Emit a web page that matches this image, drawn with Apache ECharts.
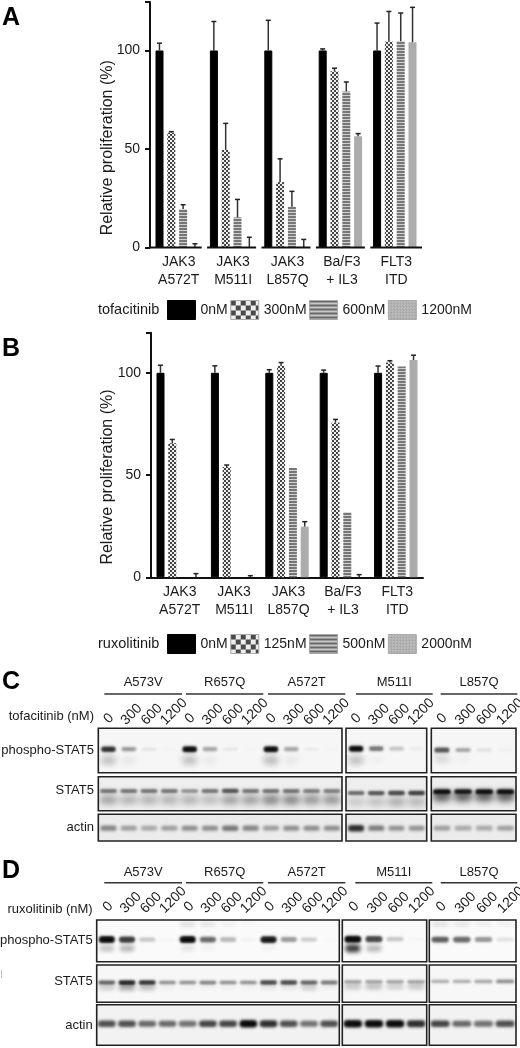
<!DOCTYPE html>
<html><head><meta charset="utf-8">
<style>html,body{margin:0;padding:0;background:#fff}#c{width:520px;height:1048px}</style>
<script src="https://cdn.jsdelivr.net/npm/echarts@6/dist/echarts.min.js"></script></head>
<body><div id="c"></div>
<script>
// ---------- data ----------
const categories = ['JAK3\nA572T','JAK3\nM511I','JAK3\nL857Q','Ba/F3\n+ IL3','FLT3\nITD'];
const tofaDoses = ['0nM','300nM','600nM','1200nM'];
const ruxoDoses = ['0nM','125nM','500nM','2000nM'];
const tofa0    = [100,100,100,100,100];
const tofa300  = [58.3,49.5,33.2,89.5,104.6];
const tofa600  = [19.5,15.3,20.7,79.2,104.7];
const tofa1200 = [0,0,0,56.4,104.2];
const tofa0Top    = [103.7,114.7,115.3,100.8,113.9];
const tofa300Top  = [58.8,63,45,91,119.8];
const tofa600Top  = [21.7,24.4,28.5,84,119];
const tofa1200Top = [1.9,5.2,4.1,57.8,121.9];
const ruxo0    = [100,100,100,100,100];
const ruxo125  = [65.5,53.9,103.3,75.7,105];
const ruxo500  = [0,0,53.4,31.8,103.1];
const ruxo2000 = [0,0,24.8,0,106.2];
const ruxo0Top    = [103.7,103.4,101.5,101.3,103.3];
const ruxo125Top  = [67.4,54.9,105,77.2,105.9];
const ruxo500Top  = [0,0,53.4,31.8,103.1];
const ruxo2000Top = [1.8,0.8,27.2,1.3,108.6];
const yTicks = [0,50,100];

const blotGroups = ['A573V','R657Q','A572T','M511I','L857Q'];
const laneDoses = ['0','300','600','1200'];
const blotRows = ['phospho-STAT5','STAT5','actin'];
// band darkness per lane; outer list = gel panel
const cPhosphoMain  = [[.85,.4,.08,.02,1,.35,.07,.01,1,.35,.05,.01],[1,.55,.22,.05],[.7,.35,.09,.03]];
const cPhosphoLower = [[.26,.07,0,0,.26,.06,0,0,.28,.07,0,0],[.26,.04,0,0],[.14,.03,0,0]];
const cStatMain  = [[.55,.55,.55,.55,.45,.55,.7,.55,.55,.55,.5,.5],[.6,.7,.75,.8],[1,.95,1,1]];
const cStatLower = [[.34,.28,.28,.28,.28,.24,.36,.36,.46,.46,.4,.4],[.18,.22,.3,.26],[.62,.62,.62,.62]];
const cActin = [[.46,.36,.3,.36,.42,.42,.52,.46,.36,.42,.42,.42],[.85,.5,.4,.4],[.35,.3,.3,.35]];
const dPhosphoMain  = [[1,.8,.22,.02,1,.6,.28,.03,.95,.4,.18,.01],[1,.75,.22,.02],[.65,.6,.42,.1]];
const dPhosphoLower = [[.24,.3,0,0,.1,.04,0,0,.04,0,0,0],[.8,.3,0,0],[0,0,0,0]];
const dPhosphoTop   = [[0,0,0,0,.18,.14,.08,.04,0,0,0,0],[0,0,0,0],[.16,.13,.1,.08]];
const dStatMain  = [[.65,.9,.85,.45,.45,.5,.45,.45,.75,.75,.65,.55],[.35,.35,.35,.35],[.32,.32,.35,.45]];
const dStatLower = [[.2,.4,.28,.04,.03,.03,.03,.03,.08,.08,.2,.04],[.24,.28,.2,.24],[0,0,0,0]];
const dActin = [[.7,.7,.6,.6,.55,.75,.75,1,.85,.7,.55,.7],[1,1,1,.85],[.75,.6,.55,.7]];

// ---------- patterns ----------
function pat(fn,w,h){const c=document.createElement('canvas');c.width=w;c.height=h;fn(c.getContext('2d'));return {image:c,repeat:'repeat'};}
function checker(s,dark,light){return pat(g=>{g.fillStyle=light;g.fillRect(0,0,2*s,2*s);g.fillStyle=dark;g.fillRect(0,0,s,s);g.fillRect(s,s,s,s);},2*s,2*s);}
function stripes(d,l,dh,lh){return pat(g=>{g.fillStyle=l;g.fillRect(0,0,4,dh+lh);g.fillStyle=d;g.fillRect(0,0,4,dh);},4,dh+lh);}
const barFills=['#000',checker(2,'#444','#eee'),stripes('#777','#d0d0d0',2,1),'#acacac'];
const legFills=['#000',checker(5,'#4a4a4a','#eee'),stripes('#686868','#c8c8c8',2,2),
  pat(g=>{g.fillStyle='#bdbdbd';g.fillRect(0,0,3,3);g.fillStyle='#8e8e8e';g.fillRect(0,0,1,1);g.fillRect(2,2,1,1);},3,3)];

// ---------- layout ----------
const FONT='"Liberation Sans",Arial,sans-serif';
const OFF=1500;
const grids=[],xAxes=[],yAxes=[],series=[],legends=[],gfx=[];
const txt=(x,y,t,o={})=>gfx.push({type:'text',x,y,silent:true,rotation:o.rot||0,style:{text:t,fill:o.c||'#1a1a1a',font:(o.w||'normal')+' '+(o.s||13)+'px '+FONT,textAlign:o.a||'left',textVerticalAlign:'middle'}});

function barPanel(top,h,left,ymax,names,vals,tops,broken,legY,drug){
  const gi=grids.length;
  grids.push({left,top,width:272,height:h,show:false,outerBoundsMode:'none'});
  xAxes.push({gridIndex:gi,type:'category',data:categories,
    axisLine:{show:!broken,lineStyle:{color:'#111',width:2}},axisTick:{show:false},
    axisLabel:{interval:0,color:'#1a1a1a',fontFamily:FONT,fontSize:14,lineHeight:18,margin:6,padding:[0,0,0,3]}});
  yAxes.push({gridIndex:gi,type:'value',min:0,max:ymax,interval:50,
    axisLine:{show:true,onZero:false,lineStyle:{color:'#111',width:2}},
    axisTick:{show:true,length:5,lineStyle:{color:'#111',width:2}},
    axisLabel:{color:'#1a1a1a',fontFamily:FONT,fontSize:14,margin:10,customValues:yTicks},splitLine:{show:false}});
  names.forEach((n,i)=>series.push({type:'bar',name:n,xAxisIndex:gi,yAxisIndex:gi,data:vals[i],barWidth:8,barGap:'47.5%',barCategoryGap:0,
    itemStyle:{color:barFills[i],borderColor:i===0?'#000':'transparent',borderWidth:i===0?1:0},silent:true,z:3}));
  const rows=[];tops.forEach((arr,d)=>arr.forEach((t,c)=>{if(t>vals[d][c])rows.push([c,t,d,vals[d][c]]);}));
  series.push({type:'custom',xAxisIndex:gi,yAxisIndex:gi,silent:true,z:4,clip:false,data:rows,encode:{x:0,y:1},
    renderItem(p,api){const off=(api.value(2)-1.5)*11.83;const a=api.coord([api.value(0),api.value(1)]);const b=api.coord([api.value(0),api.value(3)]);
      const x=a[0]+off;return {type:'group',children:[
        {type:'line',shape:{x1:x,y1:a[1],x2:x,y2:b[1]},style:{stroke:'#333',lineWidth:1.5}},
        {type:'line',shape:{x1:x-2.5,y1:a[1],x2:x+2.5,y2:a[1]},style:{stroke:'#222',lineWidth:1.5}}]};}});
  if(broken){series.push({type:'custom',xAxisIndex:gi,yAxisIndex:gi,silent:true,z:5,clip:false,data:categories.map((c,i)=>[i,0]),encode:{x:0,y:1},
    renderItem(p,api){const i=api.value(0);const c=api.coord([i,0]);const w=api.size([1,0])[0]/2;
      return {type:'line',shape:{x1:c[0]-w+(i?2.7:0),y1:c[1],x2:c[0]+w-(i<4?2.7:0),y2:c[1]},style:{stroke:'#111',lineWidth:2}};}});}
  txt(108,top+h/2+(broken?23:22),'Relative proliferation (%)',{s:16,rot:Math.PI/2,a:'center'});
  txt(98,legY,drug,{s:14.5});
  legends.push({show:true,left:167,top:legY-10,padding:0,orient:'horizontal',itemWidth:28,itemHeight:19,itemGap:2.5,selectedMode:false,
    textStyle:{color:'#1a1a1a',fontFamily:FONT,fontSize:14},
    data:names.map((n,i)=>({name:n,icon:'rect',itemStyle:{color:legFills[i],borderColor:i?'#aaa':'#000',borderWidth:1}}))});
}
barPanel(2,245.5,150,124.6,tofaDoses,[tofa0,tofa300,tofa600,tofa1200],[tofa0Top,tofa300Top,tofa600Top,tofa1200Top],true,310,'tofacitinib');
barPanel(332.7,244.6,151,119.6,ruxoDoses,[ruxo0,ruxo125,ruxo500,ruxo2000],[ruxo0Top,ruxo125Top,ruxo500Top,ruxo2000Top],false,644,'ruxolitinib');

// a band is a blurred soft shadow cast from a shape kept off-canvas
function bandSeries(gi,bands){
  series.push({type:'custom',xAxisIndex:gi,yAxisIndex:gi,silent:true,clip:true,z:2,data:bands,encode:{x:0,y:1},
    renderItem(p,api){const c=api.coord([api.value(0),api.value(1)]);const d=api.value(2);const w=api.size([1,0])[0];
      const rx=w*api.value(3),ry=api.value(4)*(.65+.6*d);
      return {type:'rect',shape:{x:c[0]-rx-OFF,y:c[1]-ry,width:2*rx,height:2*ry,r:ry},
        style:{fill:'#000',shadowBlur:api.value(5),shadowOffsetX:OFF,shadowColor:'rgba(10,10,10,'+d+')'}};}});
}
function laneLabels(gi,dx,dy){
  series.push({type:'custom',xAxisIndex:gi,yAxisIndex:gi,silent:true,clip:false,z:6,
    data:xAxes[gi].data.map((d,k)=>[k,0]),encode:{x:0,y:1},
    renderItem(p,api){const k=api.value(0);const c=api.coord([k,0]);const t=laneDoses[k%4];
      const sx=t.length===1?3:(t.length===4?-1:0),sy=t.length===1?-1.5:0;
      return {type:'text',x:c[0]+dx+sx,y:c[1]+dy+sy,rotation:Math.PI/4,
        style:{text:t,fill:'#1a1a1a',font:'14px '+FONT,textAlign:'left',textVerticalAlign:'middle',verticalAlign:'middle'}};}});
}
function blotFigure(cols,rows,labelX,drugLabel,drugY,groupY,lineY,letter,letterY,lineSpans,lblDx,lblDy){
  lineSpans.forEach((sp,i)=>{
    txt((sp[0]+sp[1])/2,groupY,blotGroups[i],{a:'center'});
    gfx.push({type:'line',silent:true,shape:{x1:sp[0],y1:lineY,x2:sp[1],y2:lineY},style:{stroke:'#333',lineWidth:1.5}});
  });
  txt(labelX,drugY,drugLabel,{a:'right'});
  txt(2,letterY,letter,{s:25,w:'bold',c:'#000'});
  rows.forEach((r,ri)=>{
    txt(labelX,r.labelY,blotRows[ri],{a:'right'});
    cols.forEach((col,ci)=>{
      const gi=grids.length,n=ci===0?12:4;
      grids.push({left:col[0],top:r.y,width:col[1]-col[0],height:r.h,show:true,backgroundColor:r.bg,borderColor:'#222',borderWidth:1.6,outerBoundsMode:'none'});
      const lanes=[];for(let k=0;k<n;k++)lanes.push(laneDoses[k%4]);
      xAxes.push({gridIndex:gi,type:'category',position:'top',data:lanes,show:false});
      yAxes.push({gridIndex:gi,type:'value',inverse:true,min:0,max:1,show:false});
      const bands=[];
      r.layers.forEach(l=>{l.d[ci].forEach((v,k)=>{if(v>0)bands.push([k,l.y[ci],v,l.rx,l.ry,l.b]);});});
      bandSeries(gi,bands);
      if(ri===0)laneLabels(gi,lblDx,lblDy);
    });
  });
}
blotFigure([[98.3,342],[346,426.7],[431.3,516]],[
  {y:728.3,h:44.4,labelY:750,bg:'#f6f6f6',layers:[{d:cPhosphoLower,y:[.72,.72,.68],rx:.36,ry:5,b:6},{d:cPhosphoMain,y:[.47,.46,.49],rx:.36,ry:2.4,b:2.5}]},
  {y:776.7,h:34,labelY:790,bg:'#eeeeee',layers:[{d:cStatLower,y:[.68,.74,.58],rx:.44,ry:5,b:6},{d:cStatMain,y:[.42,.48,.44],rx:.42,ry:2,b:2.5}]},
  {y:814.3,h:26.7,labelY:827.3,bg:'#ebebeb',layers:[{d:cActin,y:[.52,.52,.52],rx:.4,ry:2.8,b:3}]}
],94,'tofacitinib (nM)',716.7,682.3,694,'C',682,[[104.3,182],[186,263.3],[268,345.3],[356,432.7],[440.7,517.3]],-5.5,-5.5);
blotFigure([[96.7,339.3],[342.3,426.7],[429.3,516]],[
  {y:920,h:41.7,labelY:940,bg:'#fafafa',layers:[{d:dPhosphoTop,y:[.1,.1,.1],rx:.38,ry:2,b:4},{d:dPhosphoLower,y:[.68,.68,.7],rx:.36,ry:3.5,b:4},{d:dPhosphoMain,y:[.47,.46,.47],rx:.4,ry:2.8,b:2.5}]},
  {y:965,h:37.3,labelY:981.7,bg:'#f7f7f7',layers:[{d:dStatLower,y:[.6,.58,.6],rx:.4,ry:3,b:4},{d:dStatMain,y:[.47,.45,.44],rx:.42,ry:2,b:2.5}]},
  {y:1004.7,h:40.5,labelY:1025,bg:'#f2f2f2',layers:[{d:dActin,y:[.47,.47,.47],rx:.44,ry:3,b:3}]}
],92.7,'ruxolitinib (nM)',909,872.3,882.7,'D',871,[[104.3,182],[186,263.3],[268,345.3],[355.3,432.3],[440.7,517.3]],-4.5,-9);
txt(2,18,'A',{s:25,w:'bold',c:'#000'});
txt(2,349,'B',{s:25,w:'bold',c:'#000'});
gfx.push({type:'line',silent:true,shape:{x1:1.5,y1:970,x2:1.5,y2:978},style:{stroke:'#bbb',lineWidth:1}});

const chart=echarts.init(document.getElementById('c'),null,{renderer:'canvas'});
chart.setOption({animation:false,backgroundColor:'#fff',grid:grids,xAxis:xAxes,yAxis:yAxes,series,legend:legends,graphic:{elements:gfx},tooltip:{show:false}});
</script></body></html>
